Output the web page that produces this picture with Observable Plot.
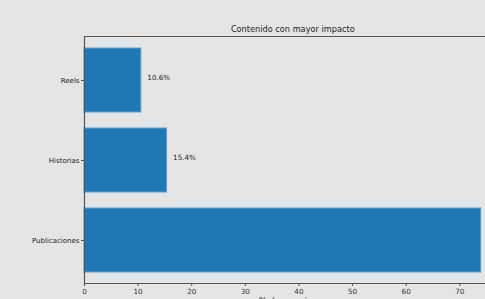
<!DOCTYPE html>
<html>
<head>
<meta charset="utf-8">
<script src="https://cdn.jsdelivr.net/npm/d3@7"></script>
<script src="https://cdn.jsdelivr.net/npm/@observablehq/plot@0.6"></script>
<style>
  html, body { margin: 0; padding: 0; background: #e5e5e5; overflow: hidden; }
  #chart svg { display: block; }
</style>
</head>
<body>
<div id="chart"></div>
<script>
const categories = ["Reels", "Historias", "Publicaciones"];
const values = [10.6, 15.4, 74.0];
const xTicks = [0, 10, 20, 30, 40, 50, 60, 70];
const title = "Contenido con mayor impacto";
const xLabel = "% de menciones";

const data = categories.map((c, i) => ({cat: c, val: values[i]}));
const fullMax = d3.max(values) * 1.05; // matplotlib margin
const visibleMax = 74.8;

const font = "DejaVu Sans, sans-serif";
const plot = Plot.plot({
  width: 485,
  height: 299,
  marginLeft: 84,
  marginRight: 0,
  marginTop: 36,
  marginBottom: 16,
  style: {background: "#e5e5e5", fontFamily: font, fontSize: "7px", color: "#333", overflow: "visible"},
  x: {domain: [0, visibleMax], ticks: xTicks, tickFormat: d => d, label: null},
  y: {domain: categories, paddingInner: 0.2, paddingOuter: 0.14, label: null},
  marks: [
    Plot.barX(data, {x: "val", y: "cat", fill: "#1f77b4", stroke: "#5b9fd0", strokeWidth: 1}),
    Plot.text(data, {x: "val", y: "cat", text: d => d.val.toFixed(1) + "%", textAnchor: "start", dx: 6, dy: -3, fontSize: 7.2, fill: "#222"}),
    Plot.axisX({ticks: xTicks, tickSize: 3, tickPadding: 2, stroke: "#555", fill: "#333", fontSize: 7.2, label: null}),
    Plot.axisY({tickSize: 3, tickPadding: 2, stroke: "#555", fill: "#222", fontSize: 7, label: null}),
    Plot.ruleX([0], {stroke: "#555", strokeWidth: 1.2}),
    Plot.frame({anchor: "top", stroke: "#555", strokeWidth: 1.2}),
    Plot.frame({anchor: "bottom", stroke: "#555", strokeWidth: 1.2}),
    Plot.text([title], {x: fullMax / 2, frameAnchor: "top", dy: -10, text: d => d, fontSize: 8.2, fill: "#222"}),
    Plot.text([xLabel], {x: fullMax / 2, frameAnchor: "bottom", dy: 20, text: d => d, fontSize: 8.2, fill: "#222"})
  ]
});
document.getElementById("chart").appendChild(plot);
</script>
</body>
</html>
